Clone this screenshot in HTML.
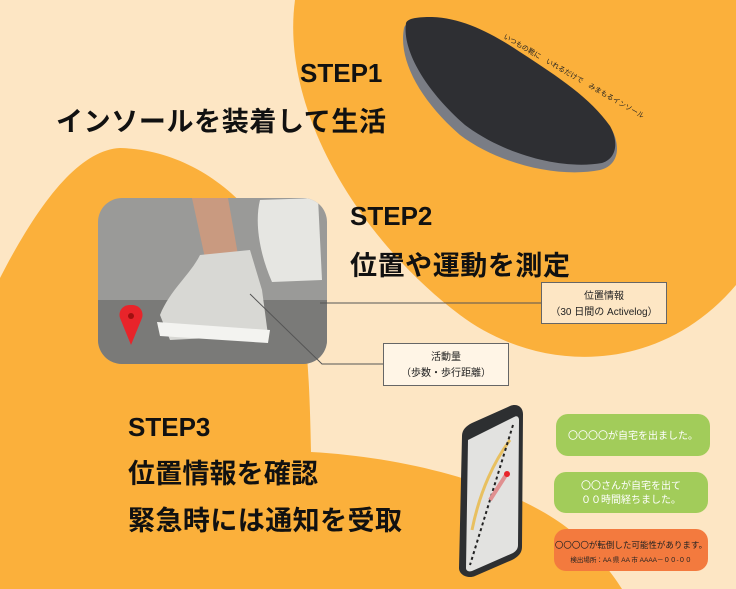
<!DOCTYPE html>
<html><head><meta charset="utf-8"><style>
body{margin:0;width:736px;height:589px;overflow:hidden;background:#fde6c4;}
svg{display:block}
text{font-family:"Liberation Sans","Noto Sans CJK JP",sans-serif;}
</style></head><body>
<svg width="736" height="589" viewBox="0 0 736 589" xmlns="http://www.w3.org/2000/svg">
<rect width="736" height="589" fill="#fde6c4"/>
<path d="M295,0 C280,110 360,240 460,315 C540,375 660,375 736,285 L736,0 Z" fill="#fbb03b"/>
<path d="M0,278 C40,200 80,150 120,148 C200,150 270,210 300,300 C308,340 310,400 311,452 C420,458 520,490 570,530 C595,552 610,570 622,589 L0,589 Z" fill="#fbb03b"/>
<g>
<path d="M404,28 C398,60 420,100 460,135 C500,165 560,178 600,170 C620,165 620,145 612,130 C590,100 560,80 520,55 C490,35 460,20 430,20 C415,20 406,22 404,28 Z" fill="#7a7d85"/>
<path d="M406,23 C402,50 425,90 465,125 C505,155 562,170 602,163 C618,158 618,140 610,126 C590,98 560,78 520,52 C490,32 462,18 432,17 C418,17 408,18 406,23 Z" fill="#2e2f33"/>
<text font-size="7" fill="#222" transform="translate(503,38) rotate(30)">いつもの靴に　いれるだけで　みまもるインソール</text>
</g>
<defs><clipPath id="pc"><rect x="98" y="198" width="229" height="166" rx="24"/></clipPath></defs>
<g clip-path="url(#pc)">
<rect x="98" y="198" width="229" height="166" fill="#9a9a98"/>
<rect x="98" y="300" width="229" height="64" fill="#7a7a78"/>
<path d="M192,198 L228,198 L238,255 L205,258 Z" fill="#c99a80"/>
<path d="M260,200 L318,198 L322,280 L272,282 C258,250 255,220 260,200 Z" fill="#e6e6e2"/>
<path d="M200,255 L250,250 L262,290 L268,335 L170,340 L160,315 C170,290 190,275 200,255 Z" fill="#d8d8d4"/>
<path d="M157,322 L270,330 L268,343 L160,336 Z" fill="#f3f3f0"/>
<path d="M130,305 C122,305 118,312 120,318 L131,345 L142,318 C144,312 140,305 132,305 Z" fill="#e8242a"/>
<circle cx="131" cy="316" r="3" fill="#a01010"/>
</g>
<line x1="320" y1="303" x2="541" y2="303" stroke="#555" stroke-width="1"/>
<polyline points="250,294 322,364 383,364" fill="none" stroke="#555" stroke-width="1"/>
<rect x="541.5" y="282.5" width="125" height="41" fill="#fde6c4" stroke="#666"/>
<text x="604" y="299" font-size="10" text-anchor="middle" fill="#222">位置情報</text>
<text x="604" y="315" font-size="10" text-anchor="middle" fill="#222">（30 日間の Activelog）</text>
<rect x="383.5" y="343.5" width="125" height="42" fill="#fff5e6" stroke="#666"/>
<text x="446" y="360" font-size="10" text-anchor="middle" fill="#222">活動量</text>
<text x="446" y="376" font-size="10" text-anchor="middle" fill="#222">（歩数・歩行距離）</text>
<g font-weight="bold" fill="#111">
<text x="300" y="82" font-size="26">STEP1</text>
<text x="56" y="131" font-size="27" textLength="330">インソールを装着して生活</text>
<text x="350" y="225" font-size="26">STEP2</text>
<text x="350" y="275" font-size="27" textLength="220">位置や運動を測定</text>
<text x="128" y="436" font-size="26">STEP3</text>
<text x="128" y="483" font-size="27" textLength="190">位置情報を確認</text>
<text x="128" y="530" font-size="27" textLength="274">緊急時には通知を受取</text>
</g>
<path d="M462,436 C462,430 466,426 472,423 L510,406 C517,403 523,407 523,414 L522,547 C522,553 518,557 512,560 L475,576 C468,579 459,575 459,568 Z" fill="#2d2f31"/>
<path d="M468,440 L514,417 C517,415 519,417 519,420 L518,545 C518,549 516,551 513,553 L472,571 C469,572 466,571 466,568 Z" fill="#e2e2e0"/>
<path d="M472,530 C480,490 495,460 510,440" stroke="#e8c060" stroke-width="3" fill="none"/>
<line x1="513" y1="425" x2="470" y2="565" stroke="#222" stroke-width="2" stroke-dasharray="3 3"/>
<line x1="490" y1="500" x2="506" y2="475" stroke="#e09090" stroke-width="4"/>
<circle cx="507" cy="474" r="3" fill="#e8242a"/>
<rect x="556" y="414" width="154" height="42" rx="12" fill="#a2cc5a"/>
<text x="633" y="439" font-size="10" text-anchor="middle" fill="#fff">〇〇〇〇が自宅を出ました。</text>
<rect x="554" y="472" width="154" height="41" rx="12" fill="#a2cc5a"/>
<text x="631" y="489" font-size="10" text-anchor="middle" fill="#fff">〇〇さんが自宅を出て</text>
<text x="631" y="503" font-size="10" text-anchor="middle" fill="#fff">００時間経ちました。</text>
<rect x="554" y="529" width="154" height="42" rx="12" fill="#f37a3e"/>
<text x="631" y="548" font-size="8.5" text-anchor="middle" fill="#222">〇〇〇〇が転倒した可能性があります。</text>
<text x="631" y="562" font-size="6.5" text-anchor="middle" fill="#222">検出場所：AA 県 AA 市 AAAA－００-００</text>
</svg>
</body></html>
